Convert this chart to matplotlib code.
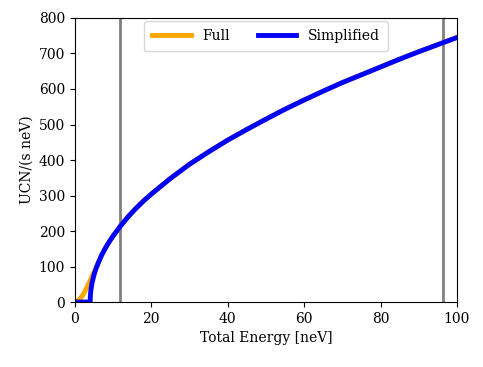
import matplotlib
matplotlib.use("Agg")
import matplotlib.pyplot as plt

plt.rcParams['font.family'] = ['DejaVu Serif']

# Values
energy_simple = [0, 4, 4.05, 4.2, 4.5, 5, 5.5, 6, 7, 8, 9, 10, 12, 14, 16, 18, 20, 25, 30, 35, 40,
                 45, 50, 55, 60, 65, 70, 75, 80, 85, 90, 95, 100]
ucn_simple = [0, 0, 17, 34, 54, 76, 93, 107, 132, 152, 170, 186, 215, 241, 264, 285, 304, 348, 388,
              423, 456, 486, 515, 543, 569, 594, 618, 640, 662, 684, 705, 725, 745]

energy_full = [0, 1, 2, 3, 4, 5, 6, 7, 8, 9, 10, 12, 14, 16, 18, 20, 25, 30, 35, 40,
               45, 50, 55, 60, 65, 70, 75, 80, 85, 90, 95, 100]
ucn_full = [0, 5, 18, 38, 60, 84, 108, 132, 152, 170, 186, 215, 241, 264, 285, 304, 348, 388,
            423, 456, 486, 515, 543, 569, 594, 618, 640, 662, 684, 705, 725, 745]

cut_lines = [11.8, 96.3]

fig = plt.figure(figsize=(4.83, 3.67), dpi=100)
ax = fig.add_axes([0.155, 0.177, 0.791, 0.774])

for e in cut_lines:
    ax.axvline(e, color='grey', lw=2)

ax.plot(energy_full, ucn_full, color='orange', lw=3.5, label='Full')
ax.plot(energy_simple, ucn_simple, color='blue', lw=3.5, label='Simplified')

ax.set_xlim(0, 100)
ax.set_ylim(0, 800)
ax.set_xlabel('Total Energy [neV]')
ax.set_ylabel('UCN/(s neV)')
ax.legend(loc='upper center', ncol=2, handlelength=2.8, borderaxespad=0.2, borderpad=0.6)

fig.savefig('out.png', dpi=100)
